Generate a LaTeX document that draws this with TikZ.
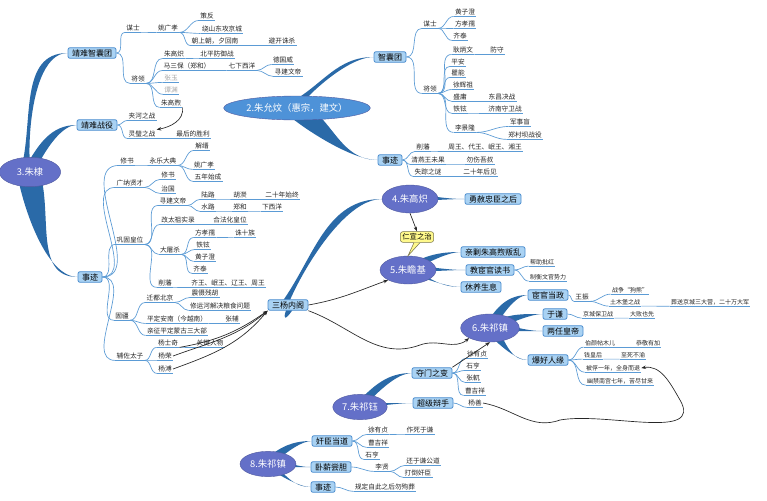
\documentclass[tikz,border=0pt]{standalone}
\usepackage{fontspec}
\setmainfont{Noto Sans CJK SC}
\usetikzlibrary{calc,shapes.geometric,arrows.meta}
\pgfdeclarelayer{bg}\pgfdeclarelayer{bgw}\pgfsetlayers{bgw,bg,main}
\definecolor{brc}{HTML}{5B9BD5}
\definecolor{tpc}{HTML}{2A6AA8}
\definecolor{boxf}{HTML}{A9D2F3}
\definecolor{boxd}{HTML}{4F8FCF}
\definecolor{elf}{HTML}{6470C8}
\definecolor{elf2}{HTML}{4E92D8}
\tikzset{
 leaf/.style={inner sep=0.8pt,font=\fontsize{5}{6}\selectfont,text=black!85},
 sleaf/.style={leaf,font=\fontsize{4.5}{5}\selectfont},
 gleaf/.style={leaf,text=black!35},
 ul/.style={draw=brc,line width=0.5pt},
 br/.style={draw=brc,line width=0.5pt},
 box/.style={draw=boxd,fill=boxf,rounded corners=1.5pt,line width=0.6pt,inner xsep=3pt,inner ysep=1.2pt,font=\fontsize{6}{7}\selectfont},
 el/.style={ellipse,fill=elf,draw=elf!80!black,line width=0.3pt,text=white,font=\fontsize{7}{8}\selectfont,inner sep=1pt},
 tp/.style={fill=tpc},
 arr/.style={draw=black!85,line width=0.5pt,-{Stealth[length=3.5pt]}}
}
\newcommand\lf[5][]{\node[leaf,#1] (#2) at (#3) {#4};
 \draw[ul] (#2.south west)--(#2.south east);
 \draw[br] (#5) to[out=0,in=180] (#2.south west);}
\newcommand\taper[5]{\begin{pgfonlayer}{bg}\fill[tp] ($(#1)!#3pt!90:(#2.west)$) to[out=#4,in=180] (#2.west) to[out=180,in=#5] ($(#1)!#3pt!-90:(#2.west)$) -- cycle;\end{pgfonlayer}}
\begin{document}
\begin{tikzpicture}[x=0.75pt,y=-0.75pt]
\begin{pgfonlayer}{bgw}\fill[white] (0,0) rectangle (767,500);\end{pgfonlayer}
\useasboundingbox (0,0) rectangle (767,500);
% central topics
\node[el,minimum width=46pt,minimum height=22pt] (zd) at (30,172) {3.朱棣};
\node[el,fill=elf2,minimum width=86pt,minimum height=18pt] (zyw) at (297,108) {2.朱允炆（惠宗，建文）};
\node[el,minimum width=42pt,minimum height=21pt] (zgc) at (410,199) {4.朱高炽};
\node[el,minimum width=42pt,minimum height=21pt] (zzj) at (408,270) {5.朱瞻基};
\node[el,minimum width=44pt,minimum height=21pt] (zqz) at (490,328) {6.朱祁镇};
\node[el,minimum width=40pt,minimum height=19pt] (zqy) at (360,407) {7.朱祁钰};
\node[el,minimum width=42pt,minimum height=19pt] (zqz2) at (268,464) {8.朱祁镇};
% boxes
\node[box] (jn) at (92,53) {靖难智囊团};
\node[box] (jz) at (97,125) {靖难战役};
\node[box] (sj3) at (90,277) {事迹};
\node[box] (znt) at (390,57) {智囊团};
\node[box] (sj2) at (390,160) {事迹};
\node[box] (sy) at (288,305) {三杨内阁};
\node[box] (ys) at (493,199) {勇赦忠臣之后};
\node[box] (qj) at (493,252) {亲剿朱高煦叛乱};
\node[box] (jh) at (490,270) {教宦官读书};
\node[box] (xy) at (481,287) {休养生息};
\node[box] (hg) at (548,295) {宦官当政};
\node[box] (yq) at (555,314) {于谦};
\node[box] (lr) at (563,331) {两任皇帝};
\node[box] (bh) at (548,360) {爆好人缘};
\node[box] (dm) at (432,373) {夺门之变};
\node[box] (cj) at (433,403) {超级辩手};
\node[box] (jc) at (332,441) {奸臣当道};
\node[box] (wx) at (331,467) {卧薪尝胆};
\node[box] (sj8) at (323,487) {事迹};
\node[draw=black!60!yellow,fill=yellow!45,rounded corners=2pt,font=\fontsize{5.5}{6}\selectfont,inner sep=1.5pt,line width=0.4pt] (rx) at (417,237) {仁宣之治};
% tapers
\taper{zd}{jn}{7}{75}{255}
\taper{zd}{jz}{5}{60}{240}
\taper{zd}{sj3}{7}{-70}{110}
\taper{zyw}{znt}{6}{30}{210}
\taper{zyw}{sj2}{6}{-30}{150}
\taper{sy}{zgc}{5}{55}{235}
\taper{zgc}{ys}{3}{0}{180}
\taper{zzj}{qj}{3}{30}{210}
\taper{zzj}{jh}{3}{0}{180}
\taper{zzj}{xy}{3}{-30}{150}
\taper{zqz}{hg}{4}{60}{240}
\taper{zqz}{yq}{3}{30}{210}
\taper{zqz}{lr}{3}{0}{180}
\taper{zqz}{bh}{4}{-50}{130}
\taper{zqy}{dm}{4}{45}{225}
\taper{zqy}{cj}{3}{0}{180}
\taper{zqz2}{jc}{4}{40}{220}
\taper{zqz2}{wx}{3}{0}{180}
\taper{zqz2}{sj8}{3}{-40}{140}
% 靖难智囊团
\lf{a1}{133,28}{谋士}{jn.east}
\lf{a2}{168,28}{姚广孝}{a1.south east}
\lf{a3}{207,16}{策反}{a2.south east}
\lf{a4}{222,29}{绕山东攻京城}{a2.south east}
\lf{a5}{215,41}{朝上朝，夕回南}{a2.south east}
\lf{a6}{282,41}{避开诛杀}{a5.south east}
\lf{b1}{138,79}{将领}{jn.east}
\lf{b2}{174,54}{朱高炽}{b1.south east}
\lf{b3}{217,54}{北平防御战}{b2.south east}
\lf{b4}{187,66}{马三保（郑和）}{b1.south east}
\lf{b5}{242,66}{七下西洋}{b4.south east}
\lf{b6}{283,60}{德国威}{b5.south east}
\lf{b7}{288,72}{寻建文帝}{b5.south east}
\lf[gleaf]{b8}{171,78}{张玉}{b1.south east}
\lf[gleaf]{b9}{171,90}{谭渊}{b1.south east}
\lf{b10}{171,103}{朱高煦}{b1.south east}
% 靖难战役
\lf{c1}{142,116}{夹河之战}{jz.east}
\lf{c2}{142,134}{灵璧之战}{jz.east}
\lf{c3}{193,134}{最后的胜利}{c2.south east}
\draw[arr] (b10.south east) to[out=-80,in=10] (c2.north east);
% 事迹 (朱棣)
\lf{d1}{127,161}{修书}{sj3.east}
\lf{d2}{163,161}{永乐大典}{d1.south east}
\lf{d3}{202,146}{解缙}{d2.south east}
\lf{d4}{204,165}{姚广孝}{d2.south east}
\lf{d5}{208,177}{五年始成}{d2.south east}
\lf{e1}{130,183}{广纳贤才}{sj3.east}
\lf{e2}{168,175}{修书}{e1.south east}
\lf{e3}{168,189}{治国}{e1.south east}
\lf{f1}{130,240}{巩固皇位}{sj3.east}
\lf{f2}{173,201}{寻建文帝}{f1.south east}
\lf{f3}{208,195}{陆路}{f2.south east}
\lf{f4}{240,195}{胡濙}{f3.south east}
\lf{f5}{282,195}{二十年始终}{f4.south east}
\lf{f6}{208,207}{水路}{f2.south east}
\lf{f7}{240,207}{郑和}{f6.south east}
\lf{f8}{272,207}{下西洋}{f7.south east}
\lf{f9}{178,220}{改太祖实录}{f1.south east}
\lf{f10}{230,220}{合法化皇位}{f9.south east}
\lf{f11}{170,250}{大屠杀}{f1.south east}
\lf{f12}{205,233}{方孝孺}{f11.south east}
\lf{f13}{245,233}{诛十族}{f12.south east}
\lf{f14}{203,245}{铁铉}{f11.south east}
\lf{f15}{205,257}{黄子澄}{f11.south east}
\lf{f16}{200,269}{齐泰}{f11.south east}
\lf{f17}{165,283}{削藩}{f1.south east}
\lf{f18}{228,283}{齐王、岷王、辽王、周王}{f17.south east}
\lf{g1}{122,316}{固疆}{sj3.east}
\lf{g2}{160,298}{迁都北京}{g1.south east}
\lf{g3}{205,293}{震慑残胡}{g2.south east}
\lf{g4}{220,306}{修运河解决粮食问题}{g2.south east}
\lf{g5}{177,319}{平定安南（今越南）}{g1.south east}
\lf{g6}{232,319}{张辅}{g5.south east}
\lf{g7}{177,331}{亲征平定蒙古三大部}{g1.south east}
\lf{h1}{130,356}{辅佐太子}{sj3.east}
\lf{h2}{168,343}{杨士奇}{h1.south east}
\lf{h3}{210,343}{关键人物}{h2.south east}
\lf{h4}{165,356}{杨荣}{h1.south east}
\lf{h5}{165,369}{杨溥}{h1.south east}
\draw[arr] (h2.south east) to[out=10,in=215] (sy.south west);
\draw[arr] (h4.east) to[out=20,in=220] (sy.south west);
\draw[arr] (h5.east) to[out=20,in=230] (sy.south west);
\draw[arr] (sy.east) to[out=10,in=200] (zzj.south west);
\draw[arr] (sy.south east) to[out=-20,in=200] (420,345) to[out=20,in=220] (zqz.south west);
% 朱允炆
\lf{i1}{430,24}{谋士}{znt.east}
\lf{i2}{465,12}{黄子澄}{i1.south east}
\lf{i3}{465,24}{方孝孺}{i1.south east}
\lf{i4}{460,36}{齐泰}{i1.south east}
\lf{j1}{430,89}{将领}{znt.east}
\lf{j2}{463,50}{耿炳文}{j1.south east}
\lf{j3}{497,50}{防守}{j2.south east}
\lf{j4}{458,62}{平安}{j1.south east}
\lf{j5}{458,73}{瞿能}{j1.south east}
\lf{j6}{463,85}{徐辉祖}{j1.south east}
\lf{j7}{460,97}{盛庸}{j1.south east}
\lf{j8}{502,97}{东昌决战}{j7.south east}
\lf{j9}{460,109}{铁铉}{j1.south east}
\lf{j10}{505,109}{济南守卫战}{j9.south east}
\lf{j11}{465,128}{李景隆}{j1.south east}
\lf{j12}{520,122}{军事盲}{j11.south east}
\lf{j13}{525,135}{郑村坝战役}{j11.south east}
\lf{k1}{423,147}{削藩}{sj2.east}
\lf{k2}{485,147}{周王、代王、岷王、湘王}{k1.south east}
\lf{k3}{428,160}{清燕王未果}{sj2.east}
\lf{k4}{480,160}{勿伤吾叔}{k3.south east}
\lf{k5}{428,172}{失踪之谜}{sj2.east}
\lf{k6}{480,172}{二十年后见}{k5.south east}
% 朱高炽 / 朱瞻基
\draw[arr] (zgc.south) -- (rx.north);
\fill[yellow!45,draw=black!60!yellow,line width=0.4pt] ($(rx.south)+(-3,0)$) -- (zzj.north) -- ($(rx.south)+(3,0)$);
\lf[sleaf]{l1}{542,262}{帮助批红}{jh.east}
\lf[sleaf]{l2}{548,277}{制衡文官势力}{jh.east}
% 朱祁镇
\lf{m1}{582,297}{王振}{hg.east}
\lf[sleaf]{m2}{630,290}{战争“狗熊”}{m1.south east}
\lf[sleaf]{m3}{625,302}{土木堡之战}{m1.south east}
\lf[sleaf]{m4}{710,302}{葬送京城三大营，二十万大军}{m3.south east}
\lf[sleaf]{n1}{598,314}{京城保卫战}{yq.east}
\lf[sleaf]{n2}{642,314}{大败也先}{n1.south east}
\lf[sleaf]{o1}{600,343}{伯颜帖木儿}{bh.east}
\lf[sleaf]{o2}{648,343}{恭敬有加}{o1.south east}
\lf[sleaf]{o3}{593,355}{钱皇后}{bh.east}
\lf[sleaf]{o4}{633,355}{至死不渝}{o3.south east}
\lf[sleaf]{o5}{613,368}{被俘一年，全身而退}{bh.east}
\lf[sleaf]{o6}{620,381}{幽禁南宫七年，苦尽甘来}{bh.east}
% 朱祁钰
\lf{p1}{477,354}{徐有贞}{dm.east}
\lf{p2}{473,366}{石亨}{dm.east}
\lf{p3}{473,378}{张軏}{dm.east}
\lf{p4}{475,391}{曹吉祥}{dm.east}
\lf{p5}{475,403}{杨善}{cj.east}
\draw[arr] (dm.north east) -- (zqz.south);
\draw[arr] (p5.east) to[out=-10,in=200] (560,420) to[out=10,in=-60] (680,400) to[out=120,in=10] (o5.east);
% 朱祁镇 (8)
\lf{q1}{378,430}{徐有贞}{jc.east}
\lf{q2}{420,430}{作死于谦}{q1.south east}
\lf{q3}{378,443}{曹吉祥}{jc.east}
\lf{q4}{372,455}{石亨}{jc.east}
\lf{r1}{382,467}{李贤}{wx.east}
\lf{r2}{423,461}{还于谦公道}{r1.south east}
\lf{r3}{418,473}{打倒奸臣}{r1.south east}
\lf{s1}{385,487}{规定自此之后勿殉葬}{sj8.east}
\end{tikzpicture}
\end{document}
